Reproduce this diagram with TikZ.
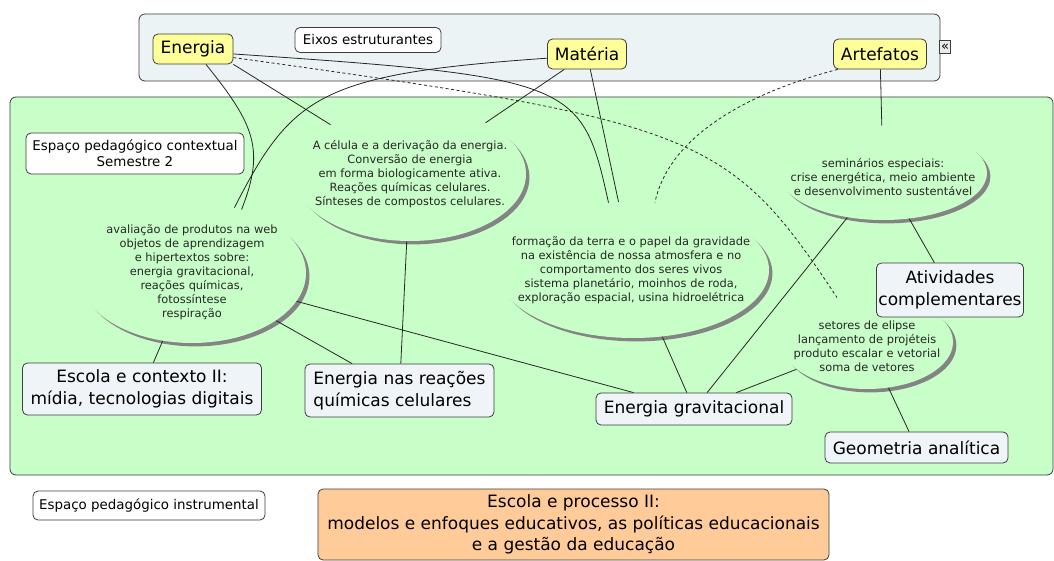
\documentclass[tikz,border=0pt]{standalone}
\usepackage{fontspec}
\setmainfont{DejaVu Sans}
\usetikzlibrary{shapes.geometric,shadows}

\definecolor{mapgreen}{RGB}{200,255,200}
\definecolor{barblue}{RGB}{236,243,245}
\definecolor{axisyellow}{RGB}{255,255,153}
\definecolor{conceptblue}{RGB}{238,244,247}
\definecolor{peach}{RGB}{255,204,153}
\definecolor{framegray}{RGB}{60,60,60}
\definecolor{shadegray}{RGB}{132,132,132}

\newcommand{\smalltext}{\fontsize{11.4}{14}\selectfont}
\newcommand{\midtext}{\fontsize{13.4}{16}\selectfont}
\newcommand{\bigtext}{\fontsize{17}{21.5}\selectfont}

\tikzset{every picture/.style={line width=0.8pt}}
\tikzset{
  concept/.style={draw=framegray, fill=conceptblue, rounded corners=5pt, inner sep=2pt, align=center, font=\bigtext},
  axisconcept/.style={concept, fill=axisyellow},
  plainbox/.style={draw=framegray, fill=white, rounded corners=5pt, inner sep=2pt, align=center, font=\midtext},
  bubble/.style={ellipse, draw=none, fill=mapgreen, inner sep=0pt,
    drop shadow={shadow xshift=3.4pt, shadow yshift=-3.4pt, fill=shadegray, opacity=1}},
  bubbletext/.style={font=\smalltext, text=black!85, align=center, inner sep=0pt},
  link/.style={draw=black!85},
  dashlink/.style={link, dash pattern=on 3pt off 2.5pt}
}

\begin{document}
\begin{tikzpicture}[x=1pt,y=-1pt]
\useasboundingbox (0,0) rectangle (1054,561);

%Rounded Rect: axes bar
\draw [draw=framegray, fill=barblue, rounded corners=6pt] (139,14) rectangle (940,81);
%Rounded Rect: contextual space
\draw [draw=framegray, fill=mapgreen, rounded corners=6pt] (10,97) rectangle (1053,475);

% collapse button
\node [draw=framegray, fill=black!8, inner sep=0pt, minimum width=11pt, minimum height=13pt, font=\fontsize{13}{13}\selectfont] (collapse) at (945,47) {«};

% Text Node
\node [axisconcept, minimum width=80pt, minimum height=30pt] (energia) at (193,49) {Energia};
% Text Node
\node [plainbox, minimum width=146pt, minimum height=25pt] (eixos) at (368,40) {Eixos estruturantes};
% Text Node
\node [axisconcept, minimum width=79pt, minimum height=30pt] (materia) at (587,54) {Matéria};
% Text Node
\node [axisconcept, minimum width=93pt, minimum height=30pt] (artefatos) at (880,54) {Artefatos};
% Text Node
\node [plainbox, minimum width=218pt, minimum height=41pt] (contextual) at (135,153.5) {Espaço pedagógico contextual\\Semestre 2};

%Bubbles
\node [bubble, minimum width=232pt, minimum height=134pt] (celula) at (410,174) {};
\node [bubbletext] (celulatext) at (410,174) {A célula e a derivação da energia.\\Conversão de energia\\em forma biologicamente ativa.\\Reações químicas celulares.\\Sínteses de compostos celulares.};
\node [bubble, minimum width=228pt, minimum height=140pt] (avaliacao) at (192,273) {};
\node [bubbletext] (avaliacaotext) at (192,272) {avaliação de produtos na web\\objetos de aprendizagem\\e hipertextos sobre:\\energia gravitacional,\\reações químicas,\\fotossíntese\\respiração};
\node [bubble, minimum width=272pt, minimum height=136pt] (formacao) at (633,270) {};
\node [bubbletext] (formacaotext) at (631,270) {formação da terra e o papel da gravidade\\na existência de nossa atmosfera e no\\comportamento dos seres vivos\\sistema planetário, moinhos de roda,\\exploração espacial, usina hidroelétrica};
\node [bubble, minimum width=208pt, minimum height=94pt] (seminarios) at (883,173) {};
\node [bubbletext] (seminariostext) at (883,177) {seminários especiais:\\crise energética, meio ambiente\\e desenvolvimento sustentável};
\node [bubble, minimum width=172pt, minimum height=94pt] (setores) at (867,342) {};
\node [bubbletext] (setorestext) at (867,346) {setores de elipse\\lançamento de projéteis\\produto escalar e vetorial\\soma de vetores};

% Text Node
\node [concept, minimum width=239pt, minimum height=52pt] (contexto) at (142,389) {Escola e contexto II:\\mídia, tecnologias digitais};
% Text Node
\node [concept, align=left, minimum width=189pt, minimum height=53pt] (reacoes) at (399.5,390.5) {Energia nas reações\\químicas celulares};
% Text Node
\node [concept, minimum width=196pt, minimum height=32pt] (gravitacional) at (694,409) {Energia gravitacional};
% Text Node
\node [concept, minimum width=132pt, minimum height=54pt] (atividades) at (950,290) {Atividades\\complementares};
% Text Node
\node [concept, minimum width=183pt, minimum height=31pt] (geometria) at (916.5,447.5) {Geometria analítica};
% Text Node
\node [plainbox, minimum width=232pt, minimum height=29pt] (instrumental) at (149,505.5) {Espaço pedagógico instrumental};
% Text Node
\node [concept, fill=peach, minimum width=511pt, minimum height=71pt] (processo) at (573.5,524.5) {Escola e processo II:\\modelos e enfoques educativos, as políticas educacionais\\e a gestão da educação};

%Straight Lines
\draw [link] (energia.south east) -- (celula);
\draw [link] (materia) -- (celula);
\draw [link] (materia) -- (formacao);
\draw [link] (artefatos) -- (seminarios);
\draw [link] (celula) -- (reacoes);
\draw [link] (avaliacao) -- (contexto);
\draw [link] (avaliacao) -- (reacoes);
\draw [link] (avaliacao) -- (gravitacional);
\draw [link] (formacao) -- (gravitacional);
\draw [link] (seminarios) -- (gravitacional);
\draw [link] (seminarios) -- (atividades);
\draw [link] (setores) -- (gravitacional);
\draw [link] (setores) -- (geometria);

%Curve Lines
\draw [link] (energia.-50) .. controls (255,125) and (265,150) .. (avaliacao.52);
\draw [link] (materia.-174) .. controls (320,74) and (292,95) .. (avaliacao.57);
\draw [link] (energia.-7) .. controls (575,77) and (582,82) .. (formacao.110);
\draw [dashlink] (energia.-12) .. controls (700,122) and (729,134) .. (setores.124);
\draw [dashlink] (artefatos.-160) .. controls (740,95) and (668,140) .. (formacao.72);
\end{tikzpicture}
\end{document}
